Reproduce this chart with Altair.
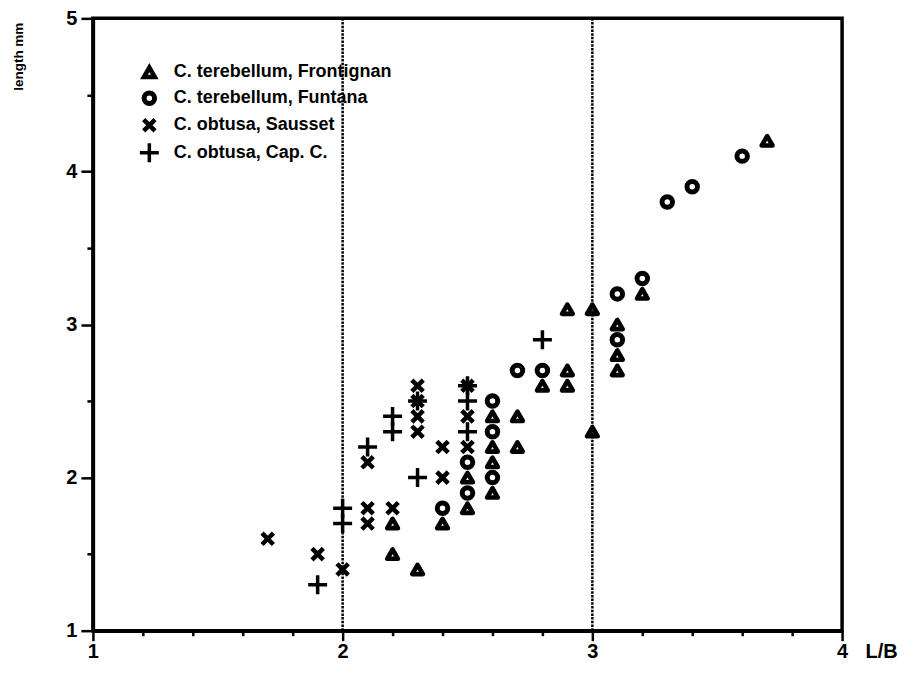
import altair as alt
import pandas as pd

series_names = ["C. terebellum, Frontignan", "C. terebellum, Funtana",
                "C. obtusa, Sausset", "C. obtusa, Cap. C."]

tri_x = [2.2, 2.2, 2.3, 2.4, 2.5, 2.5, 2.6, 2.6, 2.6, 2.6, 2.7, 2.7, 2.8, 2.9, 2.9, 2.9, 3.0, 3.0, 3.1, 3.1, 3.1, 3.2, 3.7]
tri_y = [1.7, 1.5, 1.4, 1.7, 2.0, 1.8, 2.4, 2.2, 2.1, 1.9, 2.4, 2.2, 2.6, 2.7, 2.6, 3.1, 3.1, 2.3, 3.0, 2.8, 2.7, 3.2, 4.2]

circ_x = [2.4, 2.5, 2.5, 2.6, 2.6, 2.6, 2.7, 2.8, 3.1, 3.1, 3.2, 3.3, 3.4, 3.6]
circ_y = [1.8, 2.1, 1.9, 2.5, 2.3, 2.0, 2.7, 2.7, 3.2, 2.9, 3.3, 3.8, 3.9, 4.1]

xmark_x = [1.7, 1.9, 2.0, 2.1, 2.1, 2.2, 2.1, 2.3, 2.3, 2.3, 2.3, 2.4, 2.4, 2.5, 2.5, 2.5]
xmark_y = [1.6, 1.5, 1.4, 1.8, 1.7, 1.8, 2.1, 2.6, 2.5, 2.4, 2.3, 2.2, 2.0, 2.6, 2.4, 2.2]

plus_x = [1.9, 2.0, 2.0, 2.1, 2.2, 2.2, 2.3, 2.3, 2.5, 2.5, 2.5, 2.8]
plus_y = [1.3, 1.8, 1.7, 2.2, 2.4, 2.3, 2.0, 2.5, 2.6, 2.5, 2.3, 2.9]

ref_lines = [2, 3]
x_ticks = [1, 1.2, 1.4, 1.6, 1.8, 2, 2.2, 2.4, 2.6, 2.8, 3, 3.2, 3.4, 3.6, 3.8, 4]
y_ticks = [1, 1.5, 2, 2.5, 3, 3.5, 4, 4.5, 5]

rows = []
for name, xs_, ys_ in zip(series_names, [tri_x, circ_x, xmark_x, plus_x], [tri_y, circ_y, xmark_y, plus_y]):
    for a, b in zip(xs_, ys_):
        rows.append({"LB": a, "len": b, "series": name})
df = pd.DataFrame(rows)
ref_df = pd.DataFrame({"LB": ref_lines})

FONT = "Liberation Sans"

common_axis = dict(
    format=".0f",
    labelExpr="datum.value % 1 === 0 ? datum.label : ''",
    labelOverlap=False, labelFlush=False, grid=False,
    domainColor="black", domainWidth=3.5, tickColor="black", tickWidth=2.5,
    labelFont=FONT, labelFontSize=20, labelFontWeight="bold", labelColor="black",
    titleColor="black", titleFont=FONT, titleFontWeight="bold",
)

x_axis = alt.Axis(
    values=x_ticks, title="L/B",
    tickSize={"condition": {"test": "datum.value % 1 === 0", "value": 10}, "value": 5},
    labelPadding=1,
    titleX=773, titleY=27, titleAlign="left", titleBaseline="alphabetic",
    titleFontSize=20,
    **common_axis,
)
y_axis = alt.Axis(
    values=y_ticks, title="length mm",
    tickSize={"condition": {"test": "datum.value % 1 === 0", "value": 12}, "value": 6},
    labelPadding=4,
    titleAngle=-90, titleX=-74, titleY=72, titleAlign="left", titleBaseline="middle",
    titleFontSize=13.5,
    **common_axis,
)

xs = alt.Scale(domain=[1, 4], nice=False, zero=False)
ys = alt.Scale(domain=[1, 5], nice=False, zero=False)

rules = alt.Chart(ref_df).mark_rule(color="black", strokeWidth=2.5, strokeDash=[2.5, 1.2]).encode(
    x=alt.X("LB:Q", scale=xs, axis=x_axis)
)

shape_range = ["triangle-up", "circle", "M-1,-1L1,1M1,-1L-1,1", "M-1,0L1,0M0,-1L0,1"]

points = alt.Chart(df).mark_point(filled=False, color="black", opacity=1, strokeJoin="round").encode(
    x=alt.X("LB:Q", scale=xs, axis=x_axis),
    y=alt.Y("len:Q", scale=ys, axis=y_axis),
    shape=alt.Shape("series:N", scale=alt.Scale(domain=series_names, range=shape_range), title=None),
    size=alt.Size("series:N", scale=alt.Scale(type="ordinal", domain=series_names, range=[115, 110, 130, 360]), title=None),
    strokeWidth=alt.StrokeWidth("series:N", scale=alt.Scale(type="ordinal", domain=series_names, range=[4.6, 5, 4.5, 3.5]), title=None),
)

chart = alt.layer(rules, points).properties(
    width=750, height=613,
    autosize=alt.AutoSizeParams(type="none"),
    padding={"left": 85, "top": 10, "right": 70, "bottom": 40},
).configure_view(
    stroke="black", strokeWidth=3.5
).configure_legend(
    orient="none", legendX=45, legendY=45, padding=0,
    labelFont=FONT, labelFontSize=18, labelFontWeight="bold", labelColor="black",
    symbolStrokeColor="black", symbolFillColor="transparent", symbolOpacity=1,
    labelOffset=13, rowPadding=-4, labelLimit=400,
)

chart.save("out.html", embed_options={"renderer": "svg", "actions": False})
